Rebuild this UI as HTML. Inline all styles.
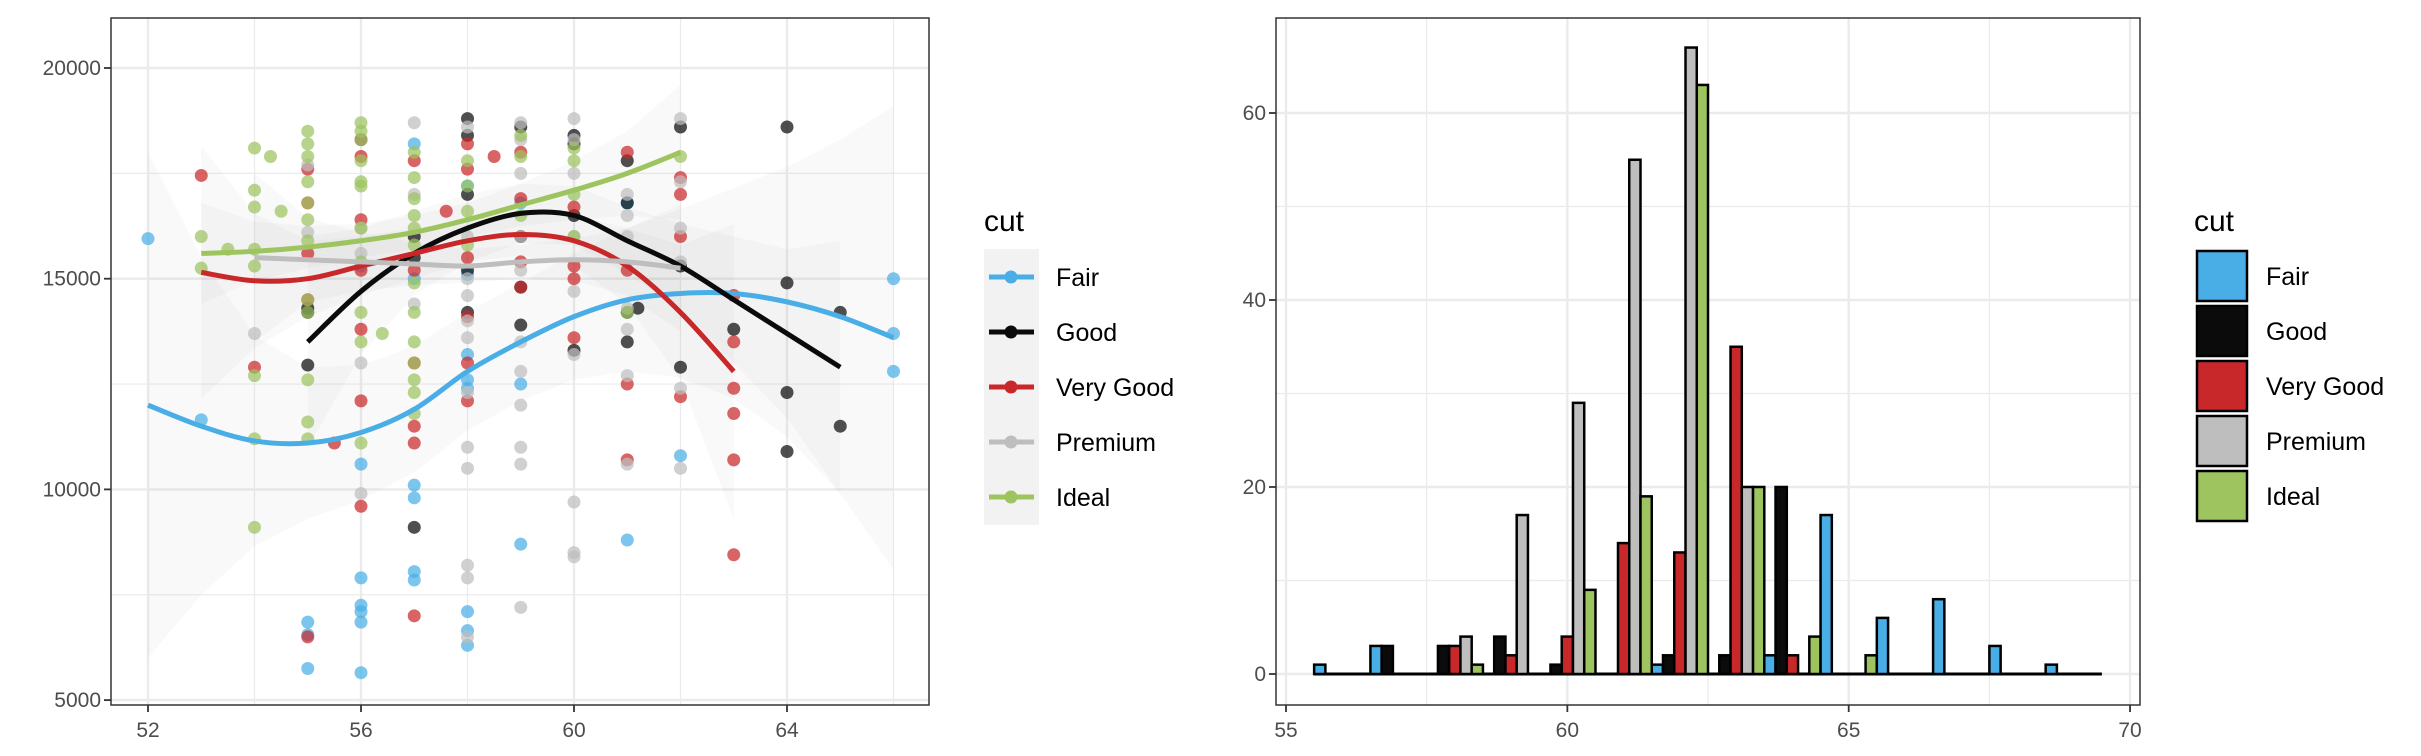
<!DOCTYPE html>
<html><head><meta charset="utf-8"><style>
html,body{margin:0;padding:0;background:#fff;}
svg{display:block;font-family:"Liberation Sans",sans-serif;}
</style></head><body>
<svg id="root" width="2421" height="756" xmlns="http://www.w3.org/2000/svg">
<g id="left"></g>
<g id="right"></g>
</svg>
<script>
const cuts = ["Fair","Good","Very Good","Premium","Ideal"];
const colors = ["#4aaee6","#0b0b0c","#c9282a","#bebebe","#9dc45f"];
// scatter data (x = depth-ish, y = price)
const fairX = [52,53,55,55,55,56,56,56,56,56,56,56,56,57,57,57,57,57,57,58,58,58,58,58,58,58,58,59,59,59,61,61,62,66,66,66];
const fairY = [15950,11650,6850,6550,5750,10600,7900,7250,7100,6850,5650,18300,15300,10100,9800,8050,7850,15000,18200,17200,13200,12600,7100,6650,6300,12400,15100,12500,8700,16800,8800,16800,10800,15000,13700,12800];
const goodX = [55,55,55,57,57,57,58,58,58,58,58,59,59,59,59,60,60,60,60,61,61,61,61.2,61,62,62,62,63,64,64,64,64,65,65];
const goodY = [14300,14200,12950,9100,15500,16000,18800,18400,14200,15200,17000,18600,16000,14800,13900,18400,18200,16500,13300,17800,16800,14200,14300,13500,18600,15300,12900,13800,18600,14900,12300,10900,14200,11500];
const vgX = [53,54,55,55,55,55,55,55.5,56,56,56,56,56,56,56,57,57,57,57,57,57,57.6,58,58,58,58,58,58,58.5,59,59,59,59,60,60,60,60,61,61,61,61,62,62,62,62,63,63,63,63,63,63];
const vgY = [17450,12900,17600,16800,15600,14500,6500,11100,18300,17900,16400,13800,12100,9600,15200,17800,15200,11500,11100,7000,13000,16600,18200,17600,15500,14100,13000,12100,17900,18000,16900,15400,14800,16700,15000,13600,15300,18000,15200,12500,10700,17400,17000,16000,12200,14600,13500,12400,11800,10700,8450];
const premX = [54,55,55,56,56,56,56,57,57,57,58,58,58,58,58,58,58,58,58,58,58,58,59,59,59,59,59,59,59,59,59,59,59,60,60,60,60,60,60,60,60,60,61,61,61,61,61,61,61,62,62,62,62,62,62];
const premY = [13700,16100,17700,13000,9900,15600,16200,18700,17000,14400,18600,16000,15000,14000,13600,12300,11000,10500,8200,7900,6500,14600,18700,18300,17500,16000,15200,13500,12000,11000,10600,7200,12800,18800,17500,16000,14700,13200,9700,8500,8400,18300,16500,16000,14300,13800,12700,10600,17000,18800,16200,15400,12400,10500,17300];
const idealX = [53,53,53.5,54,54,54,54,54,54,54,54,54.5,54.3,55,55,55,55,55,55,55,55,55,55,55,55,56,56,56,56,56,56,56,56,56,56,56,56.4,57,57,57,57,57,57,57,57,57,57,57,57,57,58,58,58,58,59,59,59,60,60,60,60,61,62];
const idealY = [16000,15250,15700,18100,17100,16700,15700,15300,12700,11200,9100,16600,17900,18500,18200,17900,17300,16800,16400,15900,14500,14200,12600,11600,11200,18700,18300,17800,17300,16200,15400,14200,13500,11100,18500,17200,13700,18000,17400,16900,16500,15800,14900,14200,13500,13000,12600,12300,11800,16200,17800,17200,16600,15800,18400,17900,16500,18100,17800,17000,16000,14200,17900];
// smooth fits
const fairFitX = [52,53,54,55,56,57,58,59,60,61,62,63,64,65,66];
const fairFitY = [12000,11500,11150,11100,11350,11900,12800,13500,14100,14500,14650,14650,14450,14100,13600];
const fairFitSE = [6000,4000,2500,1800,1600,1500,1400,1400,1500,1700,2000,2500,3200,4200,5500];
const goodFitX = [55,56,57,58,59,60,61,62,63,64,65];
const goodFitY = [13500,14700,15600,16200,16550,16500,15900,15300,14500,13700,12900];
const goodFitSE = [2500,1500,1000,800,700,700,800,1000,1500,2000,3000];
const vgFitX = [53,54,55,56,57,58,59,60,61,62,63];
const vgFitY = [15150,14950,15000,15300,15600,15900,16050,15900,15300,14200,12800];
const vgFitSE = [3000,1600,900,700,600,500,500,600,900,1600,3500];
const premFitX = [54,55,56,57,58,59,60,61,62];
const premFitY = [15500,15450,15400,15350,15300,15400,15450,15400,15250];
const premFitSE = [2000,1000,700,500,400,400,500,800,1500];
const idealFitX = [53,54,55,56,57,58,59,60,61,62];
const idealFitY = [15600,15650,15750,15900,16100,16400,16750,17100,17500,18000];
const idealFitSE = [1200,700,500,400,400,400,500,700,1000,1600];
// histogram counts per bin (bins start 55.5, width 1)
const binStarts = [55.5,56.5,57.5,58.5,59.5,60.5,61.5,62.5,63.5,64.5,65.5,66.5,67.5,68.5];
const histFair = [1,3,0,0,0,0,1,0,2,17,6,8,3,1];
const histGood = [0,3,3,4,1,0,2,2,20,0,0,0,0,0];
const histVG = [0,0,3,2,4,14,13,35,2,0,0,0,0,0];
const histPrem = [0,0,4,17,29,55,67,20,0,0,0,0,0,0];
const histIdeal = [0,0,1,0,9,19,63,20,4,2,0,0,0,0];
const leftXTicks = [52,56,60,64];
const leftYTicks = [5000,10000,15000,20000];
const rightXTicks = [55,60,65,70];
const rightYTicks = [0,20,40,60];

const NS="http://www.w3.org/2000/svg";
function mk(tag, attrs, parent){const e=document.createElementNS(NS,tag);for(const k in attrs)e.setAttribute(k,attrs[k]);parent.appendChild(e);return e;}
function smoothPath(P){ // catmull-rom -> bezier
  let d='M'+P[0][0]+','+P[0][1];
  for(let i=0;i<P.length-1;i++){
    const p0=P[Math.max(0,i-1)],p1=P[i],p2=P[i+1],p3=P[Math.min(P.length-1,i+2)];
    const c1=[p1[0]+(p2[0]-p0[0])/6,p1[1]+(p2[1]-p0[1])/6];
    const c2=[p2[0]-(p3[0]-p1[0])/6,p2[1]-(p3[1]-p1[1])/6];
    d+=' C'+c1[0]+','+c1[1]+' '+c2[0]+','+c2[1]+' '+p2[0]+','+p2[1];
  }
  return d;
}
const L=document.getElementById('left'), R=document.getElementById('right');

// ---------- LEFT PANEL ----------
const lx = v => 148 + (v-52)*53.25;
const ly = v => 68 + (20000-v)/5000*210.7;
const LP={x:111,y:18,w:818,h:687};
[54,58,62,66].forEach(v=>{const g=mk('line',{x1:lx(v),x2:lx(v),y1:LP.y,y2:LP.y+LP.h,stroke:'#ebebeb','stroke-width':1.2},L);});
[7500,12500,17500].forEach(v=>{const g=mk('line',{x1:LP.x,x2:LP.x+LP.w,y1:ly(v),y2:ly(v),stroke:'#ebebeb','stroke-width':1.2},L);});
leftXTicks.forEach(v=>{const g=mk('line',{x1:lx(v),x2:lx(v),y1:LP.y,y2:LP.y+LP.h,stroke:'#ebebeb','stroke-width':2.4},L);});
leftYTicks.forEach(v=>{const g=mk('line',{x1:LP.x,x2:LP.x+LP.w,y1:ly(v),y2:ly(v),stroke:'#ebebeb','stroke-width':2.4},L);});
const fits=[[fairFitX,fairFitY,fairFitSE],[goodFitX,goodFitY,goodFitSE],[vgFitX,vgFitY,vgFitSE],[premFitX,premFitY,premFitSE],[idealFitX,idealFitY,idealFitSE]];
const cp=mk('clipPath',{id:'lclip'},L);mk('rect',{x:LP.x,y:LP.y,width:LP.w,height:LP.h},cp);
const rib=mk('g',{'clip-path':'url(#lclip)'},L);
fits.forEach((f,i)=>{
  let up=f[0].map((x,j)=>lx(x)+','+ly(f[1][j]+f[2][j]));
  let dn=f[0].map((x,j)=>lx(x)+','+ly(f[1][j]-f[2][j])).reverse();
  const p=mk('polygon',{points:up.concat(dn).join(' '),fill:'#999',opacity:0.055},rib);
  
  
});
const pts=[[fairX,fairY],[goodX,goodY],[vgX,vgY],[premX,premY],[idealX,idealY]];
pts.forEach((s,i)=>{
  s[0].forEach((x,j)=>{
    const c=mk('circle',{cx:lx(x),cy:ly(s[1][j]),r:6.5,fill:colors[i],'fill-opacity':0.72},L);
    
    
  });
});
fits.forEach((f,i)=>{
  const P=f[0].map((x,j)=>[lx(x),ly(f[1][j])]);
  const pl=mk('path',{d:smoothPath(P),fill:'none',stroke:colors[i],'stroke-width':5},L);
  
  
});
const lb=mk('rect',{x:LP.x,y:LP.y,width:LP.w,height:LP.h,fill:'none',stroke:'#333','stroke-width':1.5},L);

leftXTicks.forEach(v=>{
  mk('line',{x1:lx(v),x2:lx(v),y1:LP.y+LP.h,y2:LP.y+LP.h+7,stroke:'#333','stroke-width':1.8},L);
  const t=mk('text',{x:lx(v),y:LP.y+LP.h+32,'text-anchor':'middle','font-size':21,fill:'#4d4d4d'},L);t.textContent=v;
  
});
leftYTicks.forEach(v=>{
  mk('line',{x1:LP.x-7,x2:LP.x,y1:ly(v),y2:ly(v),stroke:'#333','stroke-width':1.8},L);
  const t=mk('text',{x:LP.x-10,y:ly(v)+7,'text-anchor':'end','font-size':21,fill:'#4d4d4d'},L);t.textContent=v;
  
});
{const t=mk('text',{x:984,y:231,'font-size':30,fill:'#000'},L);t.textContent='cut';
 mk('rect',{x:984,y:249,width:55,height:276,fill:'#f2f2f2'},L);
 cuts.forEach((c,i)=>{const yy=277+i*55;
  const g=mk('g',{},L);
  mk('line',{x1:989,x2:1034,y1:yy,y2:yy,stroke:colors[i],'stroke-width':5},g);
  mk('circle',{cx:1011,cy:yy,r:6.5,fill:colors[i]},g);
  const tt=mk('text',{x:1056,y:yy+9,'font-size':25,fill:'#000'},g);tt.textContent=c;});
}

// ---------- RIGHT PANEL ----------
const rx = v => 1286 + (v-55)*56.27;
const ry = v => 674 - v*9.35;
const RP={x:1276,y:18,w:864,h:687};
[57.5,62.5,67.5].forEach(v=>{const g=mk('line',{x1:rx(v),x2:rx(v),y1:RP.y,y2:RP.y+RP.h,stroke:'#ebebeb','stroke-width':1.2},R);});
[10,30,50].forEach(v=>{const g=mk('line',{x1:RP.x,x2:RP.x+RP.w,y1:ry(v),y2:ry(v),stroke:'#ebebeb','stroke-width':1.2},R);});
rightXTicks.forEach(v=>{const g=mk('line',{x1:rx(v),x2:rx(v),y1:RP.y,y2:RP.y+RP.h,stroke:'#ebebeb','stroke-width':2.4},R);});
rightYTicks.forEach(v=>{const g=mk('line',{x1:RP.x,x2:RP.x+RP.w,y1:ry(v),y2:ry(v),stroke:'#ebebeb','stroke-width':2.4},R);});
const hs=[histFair,histGood,histVG,histPrem,histIdeal];
{const b=mk('line',{x1:rx(binStarts[0]),x2:rx(binStarts[binStarts.length-1]+1),y1:ry(0),y2:ry(0),stroke:'#000','stroke-width':3},R);}
binStarts.forEach((b,k)=>{
  hs.forEach((h,i)=>{
    const v=h[k]; if(v<=0) return;
    const x0=rx(b+i*0.2), x1=rx(b+(i+1)*0.2);
    const r=mk('rect',{x:x0,y:ry(v),width:x1-x0,height:ry(0)-ry(v),fill:colors[i],stroke:'#000','stroke-width':2.5},R);
    
    
  });
});
const rb=mk('rect',{x:RP.x,y:RP.y,width:RP.w,height:RP.h,fill:'none',stroke:'#333','stroke-width':1.5},R);

rightXTicks.forEach(v=>{
  mk('line',{x1:rx(v),x2:rx(v),y1:RP.y+RP.h,y2:RP.y+RP.h+7,stroke:'#333','stroke-width':1.8},R);
  const t=mk('text',{x:rx(v),y:RP.y+RP.h+32,'text-anchor':'middle','font-size':21,fill:'#4d4d4d'},R);t.textContent=v;
  
});
rightYTicks.forEach(v=>{
  mk('line',{x1:RP.x-7,x2:RP.x,y1:ry(v),y2:ry(v),stroke:'#333','stroke-width':1.8},R);
  const t=mk('text',{x:RP.x-10,y:ry(v)+7,'text-anchor':'end','font-size':21,fill:'#4d4d4d'},R);t.textContent=v;
  
});
{const t=mk('text',{x:2194,y:231,'font-size':30,fill:'#000'},R);t.textContent='cut';
 cuts.forEach((c,i)=>{const yy=251+i*55;
  const g=mk('g',{},R);
  mk('rect',{x:2197,y:yy,width:50,height:50,fill:colors[i],stroke:'#000','stroke-width':2.5},g);
  const tt=mk('text',{x:2266,y:yy+34,'font-size':25,fill:'#000'},g);tt.textContent=c;});
}
</script>
</body></html>
